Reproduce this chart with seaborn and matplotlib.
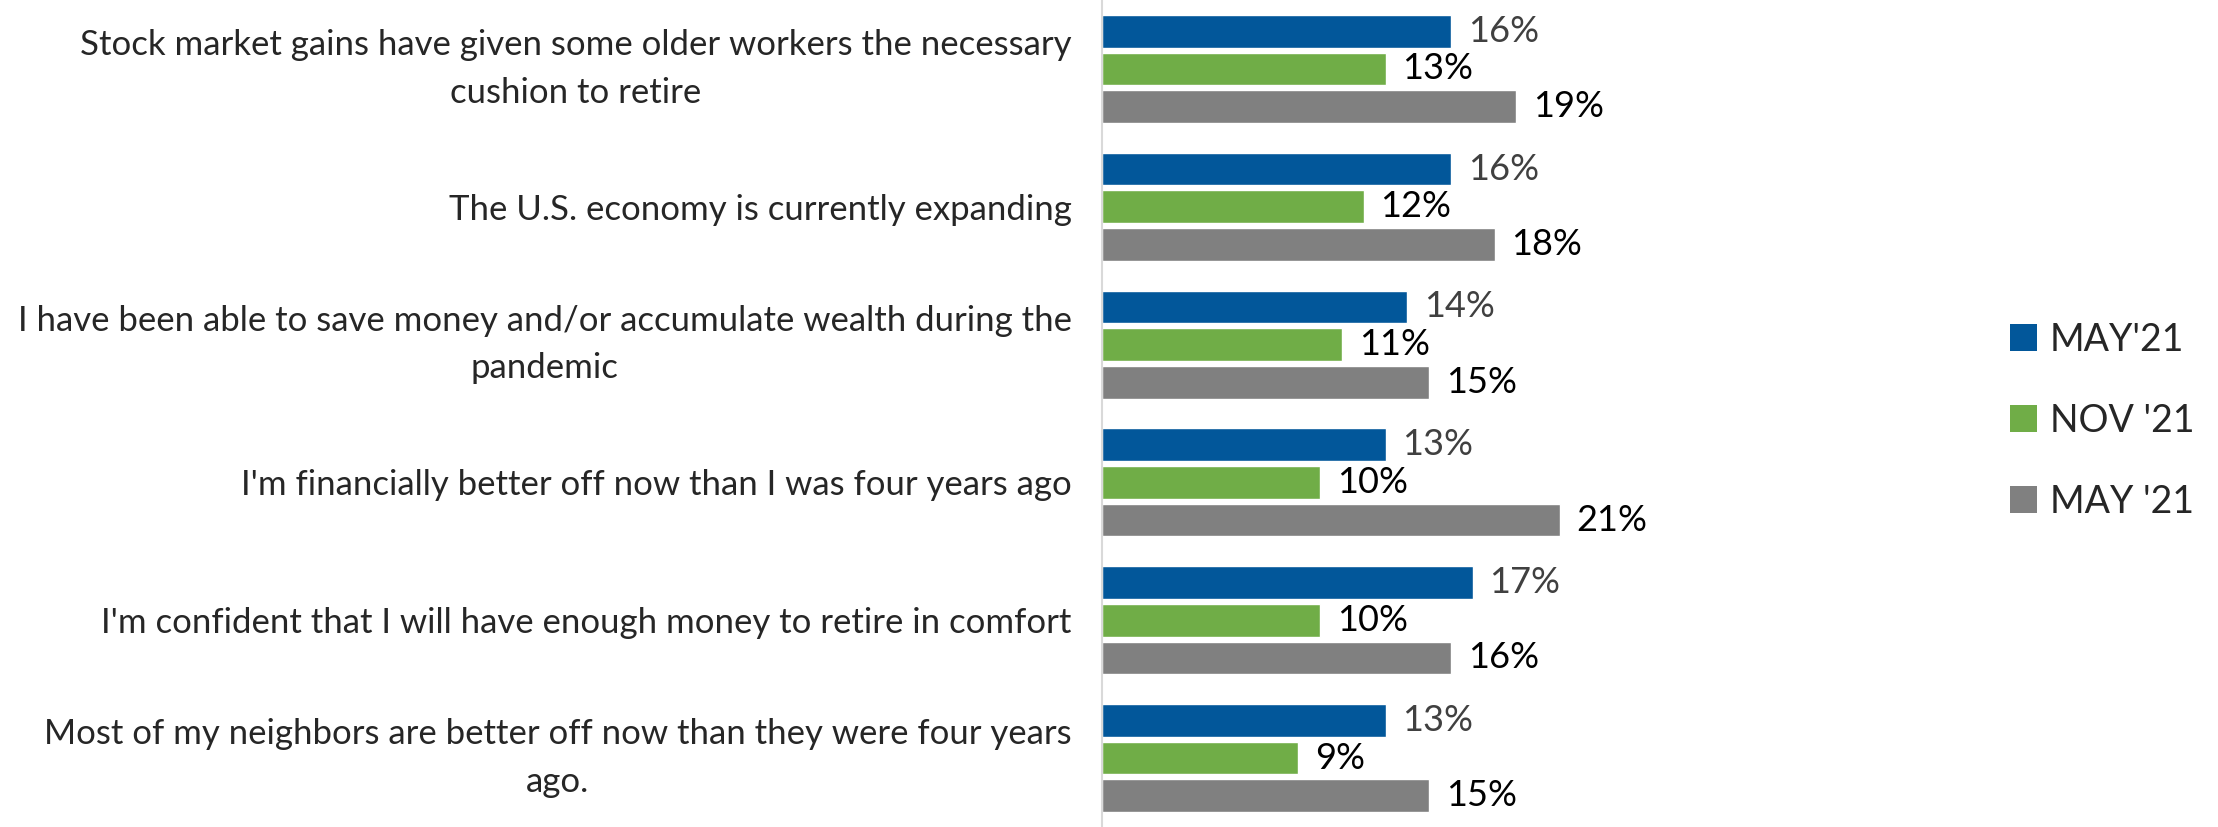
import pandas as pd
import matplotlib.pyplot as plt
import seaborn as sns
from matplotlib.patches import Patch

# ==========================
# Data
# ==========================

statements = [
    "Stock market gains have given some older workers the necessary\ncushion to retire",
    "The U.S. economy is currently expanding",
    "I have been able to save money and/or accumulate wealth during the\npandemic",
    "I'm financially better off now than I was four years ago",
    "I'm confident that I will have enough money to retire in comfort",
    "Most of my neighbors are better off now than they were four years\nago.",
]

waves = ["MAY'21", "NOV '21", "MAY '21"]

may21_a = [16, 16, 14, 13, 17, 13]
nov21 = [13, 12, 11, 10, 10, 9]
may21_b = [19, 18, 15, 21, 16, 15]

colors = ["#02579A", "#70AD47", "#808080"]
label_colors = ["#404040", "#000000", "#000000"]

df = pd.DataFrame({
    "statement": statements * 3,
    "wave": [waves[0]] * 6 + [waves[1]] * 6 + [waves[2]] * 6,
    "value": may21_a + nov21 + may21_b,
})

# ==========================
# Plot
# ==========================

sns.set_style("white")
plt.rcParams["font.family"] = ["Lato", "DejaVu Sans"]

fig = plt.figure(figsize=(22.18, 8.27), dpi=100)
ax = fig.add_axes([0.497, 0.0, 0.226, 1.0])

sns.barplot(
    data=df,
    y="statement",
    x="value",
    hue="wave",
    hue_order=waves,
    order=statements,
    palette=colors,
    saturation=1,
    width=0.82,
    gap=0.13,
    orient="h",
    legend=False,
    ax=ax,
)

for container, c in zip(ax.containers, label_colors):
    ax.bar_label(
        container,
        labels=[f"{v:.0f}%" for v in container.datavalues],
        padding=12,
        fontsize=26,
        color=c,
    )

ax.set_xlim(0, 23)
ax.set_ylim(5.5, -0.5)
ax.set_xlabel("")
ax.set_ylabel("")
ax.set_xticks([])

ax.tick_params(axis="y", length=0, pad=22, labelsize=25)
for t in ax.get_yticklabels():
    t.set_multialignment("center")
    t.set_linespacing(1.6)
    if "\n" in t.get_text():
        t.set_verticalalignment("center")

for side in ["top", "right", "bottom"]:
    ax.spines[side].set_visible(False)
ax.spines["left"].set_color("#d9d9d9")
ax.spines["left"].set_linewidth(1.5)

handles = [Patch(facecolor=c, edgecolor="none") for c in colors]
fig.legend(
    handles,
    waves,
    loc="center left",
    bbox_to_anchor=(0.891, 0.491),
    frameon=False,
    fontsize=27,
    handlelength=0.72,
    handleheight=0.72,
    handletextpad=0.35,
    labelspacing=1.2,
)

fig.savefig("out.png", dpi=100)
plt.close()
